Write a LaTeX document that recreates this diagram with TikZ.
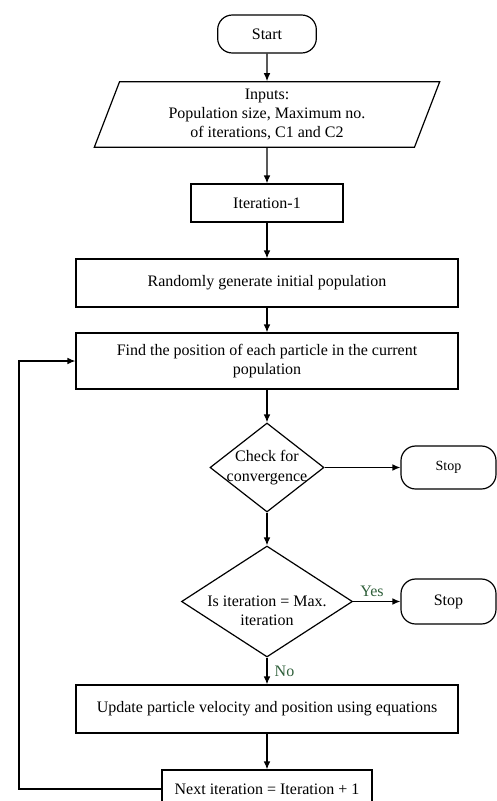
\documentclass[tikz,border=0pt]{standalone}
\usepackage{fontspec}
\setmainfont{Liberation Serif}
\usetikzlibrary{shapes.geometric,arrows.meta}
\definecolor{labelgreen}{RGB}{47,95,58}
\begin{document}
\begin{tikzpicture}[x=0.75pt,y=-0.75pt,line width=0.9pt,>={Latex[length=6pt,width=5pt]}]
    \tikzstyle{txt}=[font=\fontsize{12}{14.5}\selectfont]
    \tikzstyle{term}=[draw,rounded corners=11pt,txt,inner sep=0pt,minimum width=71.25pt]
    \tikzstyle{proc}=[draw,rectangle,txt,inner sep=0pt,align=center]
    \tikzstyle{decide}=[draw,diamond,inner sep=0pt]
    \tikzstyle{io}=[draw,trapezium,trapezium left angle=64,trapezium right angle=116,trapezium stretches body=true,txt,align=center,inner sep=0pt]
    \tikzstyle{branch}=[txt,text=labelgreen]
    \useasboundingbox (0,0) rectangle (497,801);
    \node[term,minimum width=74pt,minimum height=28.5pt] (start) at (267,34) {Start};
    \node[io,minimum width=259pt,minimum height=49pt] (inputs) at (267,114.5) {Inputs:\\Population size, Maximum no.\\of iterations, C1 and C2};
    \node[proc,minimum width=114pt,minimum height=28.5pt] (iterone) at (267,203) {Iteration-1};
    \node[proc,minimum width=286.5pt,minimum height=36pt] (randgen) at (267,283) {Randomly generate initial population};
    \node[proc,minimum width=286.5pt,minimum height=42pt] (findpos) at (267,361) {Find the position of each particle in the current\\population};
    \node[decide,minimum width=85.5pt,minimum height=66.75pt,label={[txt,align=center]center:{Check for\\convergence}}] (converge) at (267,467.5) {};
    \node[term,minimum height=32.25pt,font=\fontsize{10.5}{12}\selectfont] (stopa) at (448.5,467.5) {Stop};
    \node[decide,minimum width=128.25pt,minimum height=83.25pt,label={[txt,align=center,yshift=-7pt]center:{Is iteration = Max.\\iteration}}] (maxiter) at (267,601.5) {};
    \node[term,minimum height=33.75pt] (stopb) at (448.5,601.5) {Stop};
    \node[proc,minimum width=286.5pt,minimum height=36pt] (update) at (267,709) {Update particle velocity and position using equations};
    \node[proc,minimum width=157.5pt,minimum height=28.5pt] (nextiter) at (267,789) {Next iteration = Iteration + 1};
    \coordinate (loopc) at (19,789);
    \draw[->] (start) -- (inputs);
    \draw[->] (inputs) -- (iterone);
    \draw[->] (iterone) -- (randgen);
    \draw[->] (randgen) -- (findpos);
    \draw[->] (findpos) -- (converge);
    \draw[->] (converge) -- (stopa);
    \draw[->] (converge) -- (maxiter);
    \draw[->] (maxiter) -- node[branch,above,pos=0.4] (yeslbl) {Yes} (stopb);
    \draw[->] (maxiter) -- node[branch,right,xshift=2pt] (nolbl) {No} (update);
    \draw[->] (update) -- (nextiter);
    \draw[->] (nextiter) -- (loopc) |- (findpos);
\end{tikzpicture}
\end{document}
